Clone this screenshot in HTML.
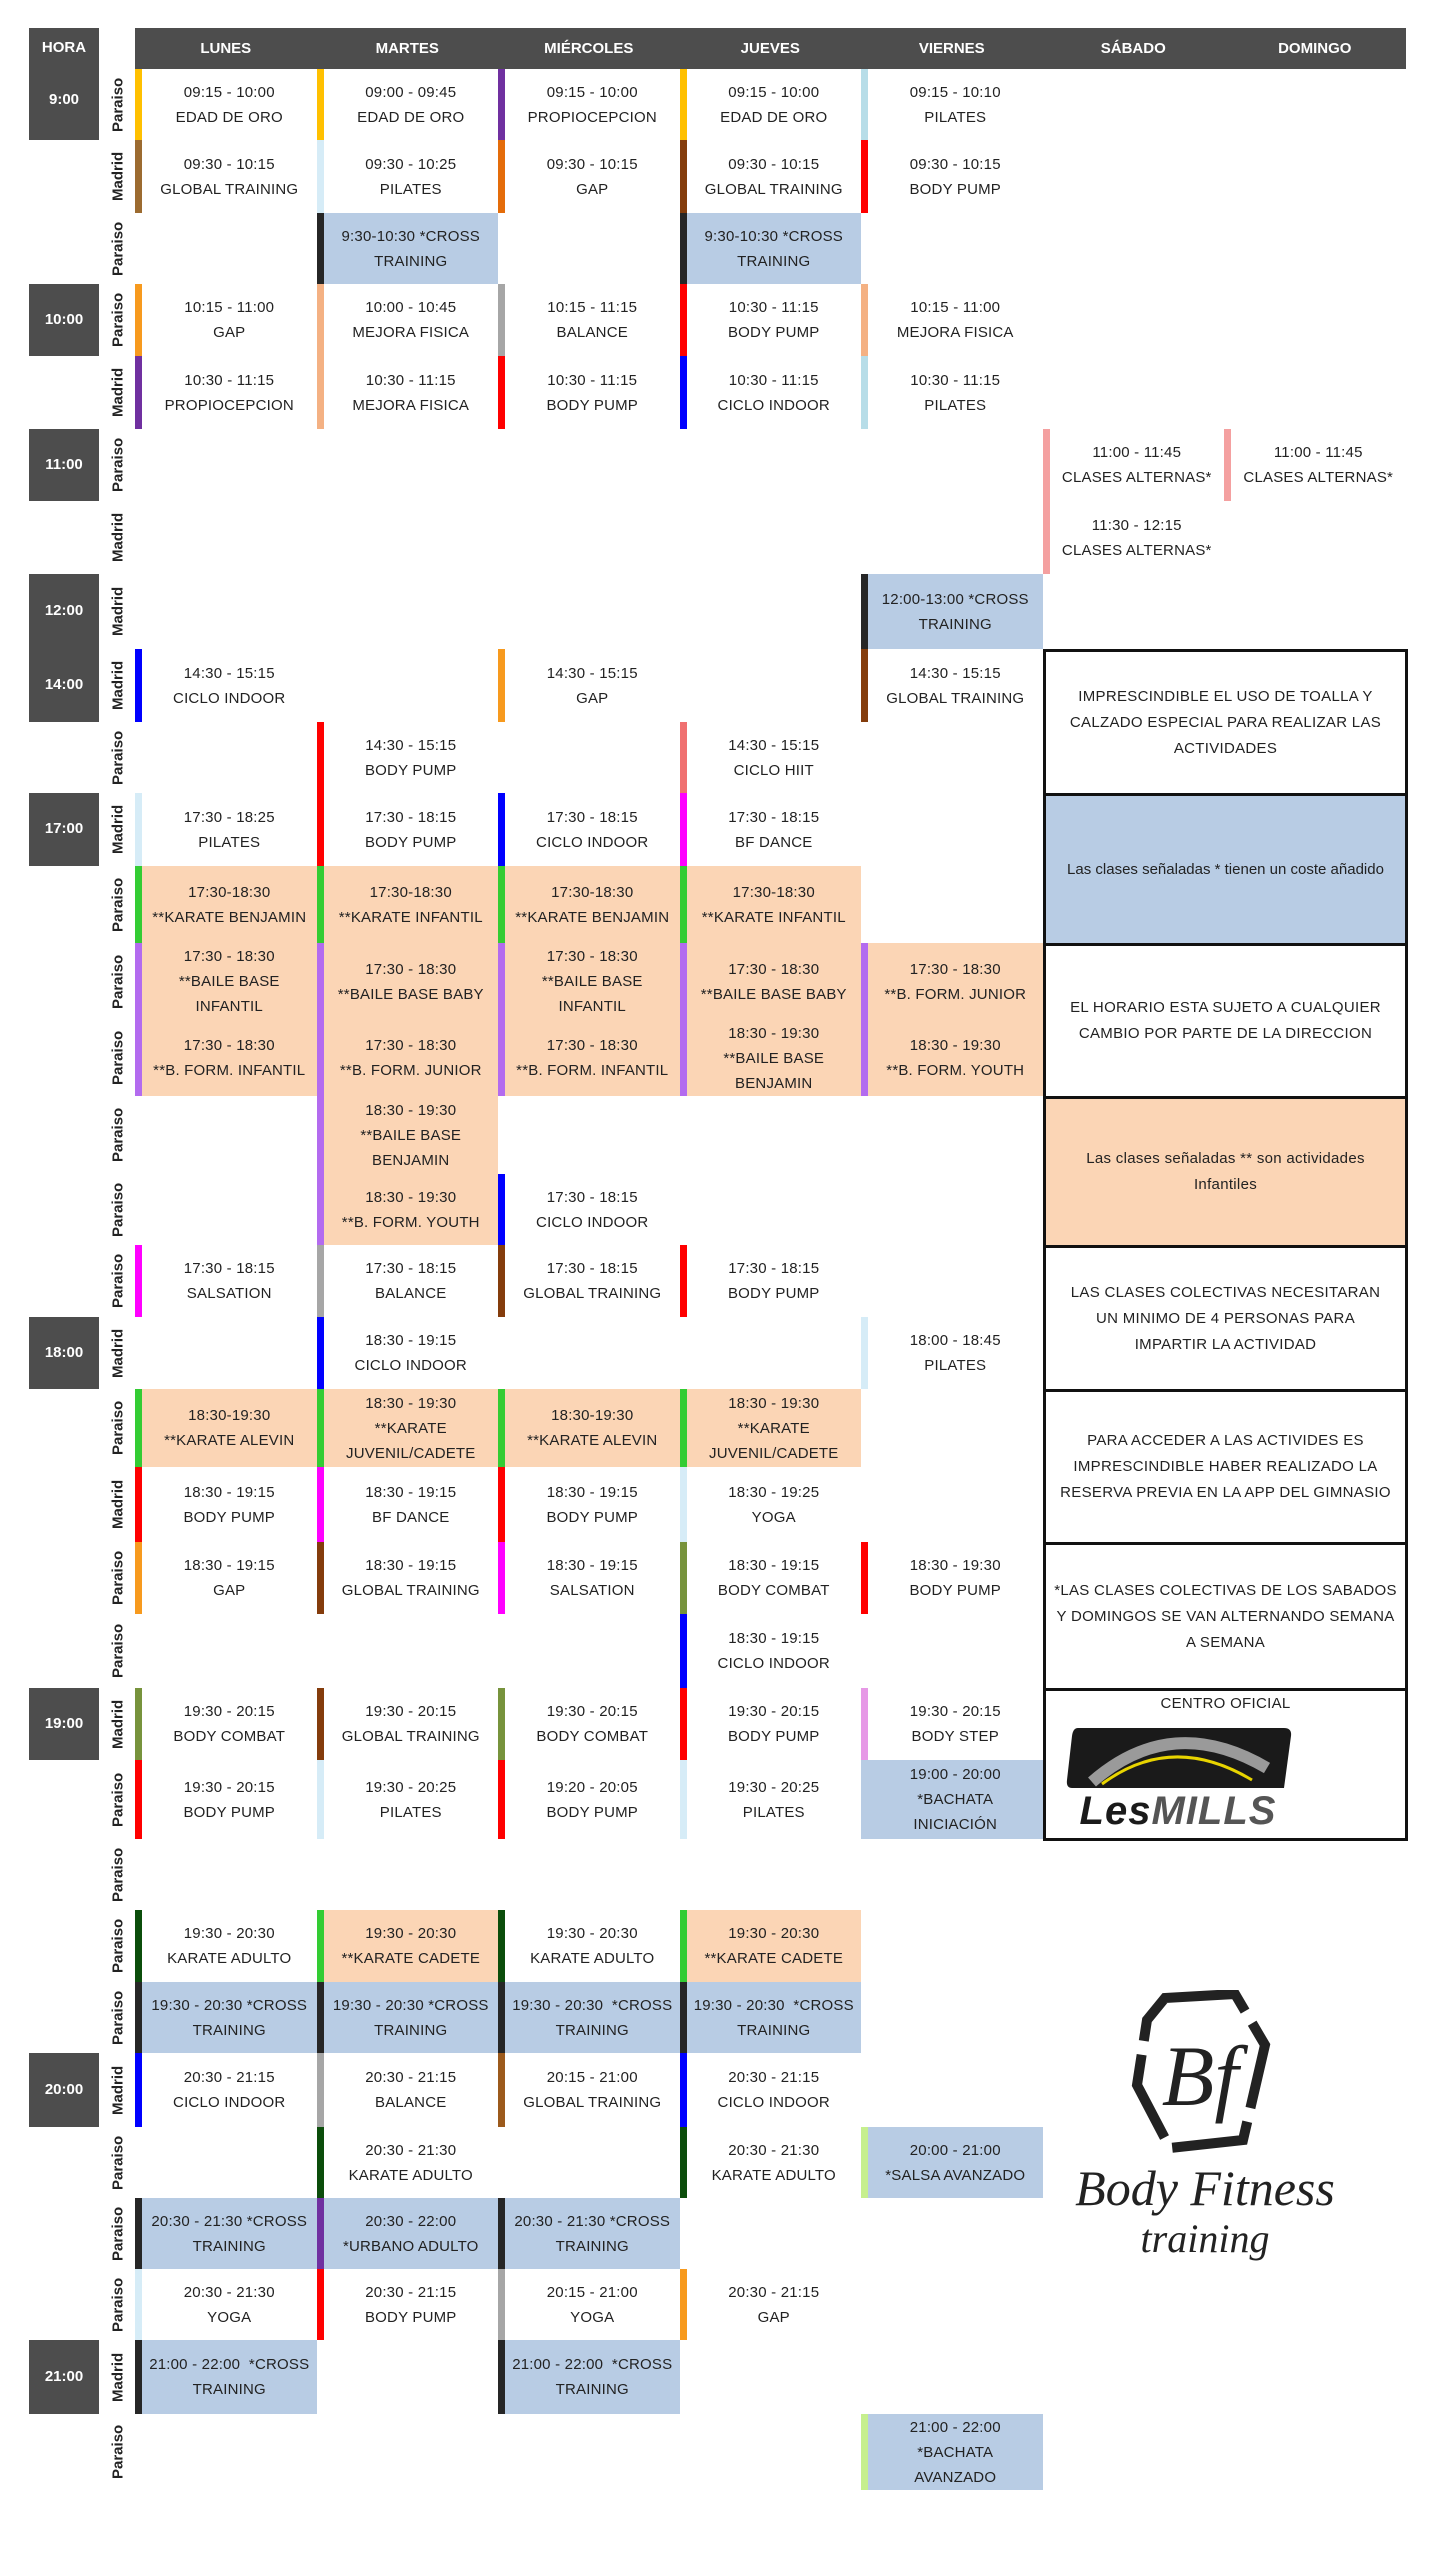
<!DOCTYPE html>
<html><head><meta charset="utf-8"><style>
*{margin:0;padding:0;box-sizing:border-box}
body{width:1441px;height:2560px;background:#fff;position:relative;font-family:"Liberation Sans",sans-serif;color:#222;overflow:hidden}
.hdr{position:absolute;left:135px;top:28px;width:1271px;height:41px;background:#4d4d4d;display:grid;grid-template-columns:repeat(7,181.5px)}
.hdr div{color:#fff;font-weight:bold;font-size:15px;display:flex;align-items:center;justify-content:center}
.hb{position:absolute;left:29px;width:70px;background:#4d4d4d;color:#fff;font-weight:bold;font-size:15px}
.hb span{position:absolute;left:0;right:0;text-align:center}
.rows{grid-template-rows:71px 73px 71px 72px 73px 72px 73px 75px 73px 71px 73px 77px 77px 76px 78px 71px 72px 72px 78px 75px 72px 74px 72px 79px 71px 72px 71px 74px 71px 71px 71px 74px 76px}
.g{position:absolute;left:135px;top:69px;width:1271px;display:grid;grid-template-columns:repeat(7,181.5px)}
.loc{position:absolute;left:104px;top:69px;width:28px;display:grid}
.loc div{writing-mode:vertical-rl;transform:rotate(180deg);font-weight:bold;font-size:15px;text-align:center;display:flex;align-items:center;justify-content:center}
.c{display:flex;align-items:center;justify-content:center;text-align:center;border-left:7px solid #fff;font-size:15px;line-height:25px;letter-spacing:0.2px;padding:0 1px;white-space:nowrap}
.b{background:#b8cce4}.p{background:#fbd5b5}
.Y{border-color:#ffc000}.BR{border-color:#9c6b30}.LB{border-color:#d6ecf7}.PU{border-color:#7030a0}.OR{border-color:#e46c0a}.DB{border-color:#843c0c}.R{border-color:#ff0000}.K{border-color:#262626}.PE{border-color:#f4b183}.GR{border-color:#a6a6a6}.BL{border-color:#0000ff}.TE{border-color:#b7dde8}.O2{border-color:#f79a1e}.SA{border-color:#f07070}.MG{border-color:#ff00ff}.GN{border-color:#33cc33}.LV{border-color:#b36bef}.OL{border-color:#77933c}.DG{border-color:#0b4d0b}.PK{border-color:#f4a0a0}.LG{border-color:#c6ef8e}.VI{border-color:#e699e6}
.notes{position:absolute;left:1043px;top:649px;width:365px;height:1192px;border:3px solid #111}
.n{position:absolute;left:0;right:0;border-bottom:3px solid #111;display:flex;align-items:center;justify-content:center;text-align:center;font-size:15px;line-height:26px;letter-spacing:0.3px;padding:0 14px}
</style></head><body>
<div class="hdr"><div>LUNES</div><div>MARTES</div><div>MIÉRCOLES</div><div>JUEVES</div><div>VIERNES</div><div>SÁBADO</div><div>DOMINGO</div></div>

<div class="hb" style="top:28px;height:112px"><span style="top:11px">HORA</span><span style="top:63px">9:00</span></div>
<div class="hb" style="top:284px;height:72px"><span style="top:27px">10:00</span></div>
<div class="hb" style="top:429px;height:72px"><span style="top:27px">11:00</span></div>
<div class="hb" style="top:574px;height:148px"><span style="top:28px">12:00</span><span style="top:102px">14:00</span></div>
<div class="hb" style="top:793px;height:73px"><span style="top:27px">17:00</span></div>
<div class="hb" style="top:1317px;height:72px"><span style="top:27px">18:00</span></div>
<div class="hb" style="top:1688px;height:72px"><span style="top:27px">19:00</span></div>
<div class="hb" style="top:2053px;height:74px"><span style="top:28px">20:00</span></div>
<div class="hb" style="top:2340px;height:74px"><span style="top:28px">21:00</span></div>

<div class="loc rows">
<div>Paraiso</div><div>Madrid</div><div>Paraiso</div><div>Paraiso</div><div>Madrid</div><div>Paraiso</div><div>Madrid</div><div>Madrid</div><div>Madrid</div><div>Paraiso</div><div>Madrid</div><div>Paraiso</div><div>Paraiso</div><div>Paraiso</div><div>Paraiso</div><div>Paraiso</div><div>Paraiso</div><div>Madrid</div><div>Paraiso</div><div>Madrid</div><div>Paraiso</div><div>Paraiso</div><div>Madrid</div><div>Paraiso</div><div>Paraiso</div><div>Paraiso</div><div>Paraiso</div><div>Madrid</div><div>Paraiso</div><div>Paraiso</div><div>Paraiso</div><div>Madrid</div><div>Paraiso</div>
</div>

<div class="g rows">
<div class="c Y" style="grid-area:1/1">09:15 - 10:00<br>EDAD DE ORO</div>
<div class="c Y" style="grid-area:1/2">09:00 - 09:45<br>EDAD DE ORO</div>
<div class="c PU" style="grid-area:1/3">09:15 - 10:00<br>PROPIOCEPCION</div>
<div class="c Y" style="grid-area:1/4">09:15 - 10:00<br>EDAD DE ORO</div>
<div class="c TE" style="grid-area:1/5">09:15 - 10:10<br>PILATES</div>

<div class="c BR" style="grid-area:2/1">09:30 - 10:15<br>GLOBAL TRAINING</div>
<div class="c LB" style="grid-area:2/2">09:30 - 10:25<br>PILATES</div>
<div class="c OR" style="grid-area:2/3">09:30 - 10:15<br>GAP</div>
<div class="c DB" style="grid-area:2/4">09:30 - 10:15<br>GLOBAL TRAINING</div>
<div class="c R" style="grid-area:2/5">09:30 - 10:15<br>BODY PUMP</div>

<div class="c K b" style="grid-area:3/2">9:30-10:30 *CROSS<br>TRAINING</div>
<div class="c K b" style="grid-area:3/4">9:30-10:30 *CROSS<br>TRAINING</div>

<div class="c O2" style="grid-area:4/1">10:15 - 11:00<br>GAP</div>
<div class="c PE" style="grid-area:4/2">10:00 - 10:45<br>MEJORA FISICA</div>
<div class="c GR" style="grid-area:4/3">10:15 - 11:15<br>BALANCE</div>
<div class="c R" style="grid-area:4/4">10:30 - 11:15<br>BODY PUMP</div>
<div class="c PE" style="grid-area:4/5">10:15 - 11:00<br>MEJORA FISICA</div>

<div class="c PU" style="grid-area:5/1">10:30 - 11:15<br>PROPIOCEPCION</div>
<div class="c PE" style="grid-area:5/2">10:30 - 11:15<br>MEJORA FISICA</div>
<div class="c R" style="grid-area:5/3">10:30 - 11:15<br>BODY PUMP</div>
<div class="c BL" style="grid-area:5/4">10:30 - 11:15<br>CICLO INDOOR</div>
<div class="c TE" style="grid-area:5/5">10:30 - 11:15<br>PILATES</div>

<div class="c PK" style="grid-area:6/6">11:00 - 11:45<br>CLASES ALTERNAS*</div>
<div class="c PK" style="grid-area:6/7">11:00 - 11:45<br>CLASES ALTERNAS*</div>
<div class="c PK" style="grid-area:7/6">11:30 - 12:15<br>CLASES ALTERNAS*</div>

<div class="c K b" style="grid-area:8/5">12:00-13:00 *CROSS<br>TRAINING</div>

<div class="c BL" style="grid-area:9/1">14:30 - 15:15<br>CICLO INDOOR</div>
<div class="c O2" style="grid-area:9/3">14:30 - 15:15<br>GAP</div>
<div class="c DB" style="grid-area:9/5">14:30 - 15:15<br>GLOBAL TRAINING</div>

<div class="c R" style="grid-area:10/2">14:30 - 15:15<br>BODY PUMP</div>
<div class="c SA" style="grid-area:10/4">14:30 - 15:15<br>CICLO HIIT</div>

<div class="c LB" style="grid-area:11/1">17:30 - 18:25<br>PILATES</div>
<div class="c R" style="grid-area:11/2">17:30 - 18:15<br>BODY PUMP</div>
<div class="c BL" style="grid-area:11/3">17:30 - 18:15<br>CICLO INDOOR</div>
<div class="c MG" style="grid-area:11/4">17:30 - 18:15<br>BF DANCE</div>

<div class="c GN p" style="grid-area:12/1">17:30-18:30<br>**KARATE BENJAMIN</div>
<div class="c GN p" style="grid-area:12/2">17:30-18:30<br>**KARATE INFANTIL</div>
<div class="c GN p" style="grid-area:12/3">17:30-18:30<br>**KARATE BENJAMIN</div>
<div class="c GN p" style="grid-area:12/4">17:30-18:30<br>**KARATE INFANTIL</div>

<div class="c LV p" style="grid-area:13/1">17:30 - 18:30<br>**BAILE BASE<br>INFANTIL</div>
<div class="c LV p" style="grid-area:13/2">17:30 - 18:30<br>**BAILE BASE BABY</div>
<div class="c LV p" style="grid-area:13/3">17:30 - 18:30<br>**BAILE BASE<br>INFANTIL</div>
<div class="c LV p" style="grid-area:13/4">17:30 - 18:30<br>**BAILE BASE BABY</div>
<div class="c LV p" style="grid-area:13/5">17:30 - 18:30<br>**B. FORM. JUNIOR</div>

<div class="c LV p" style="grid-area:14/1">17:30 - 18:30<br>**B. FORM. INFANTIL</div>
<div class="c LV p" style="grid-area:14/2">17:30 - 18:30<br>**B. FORM. JUNIOR</div>
<div class="c LV p" style="grid-area:14/3">17:30 - 18:30<br>**B. FORM. INFANTIL</div>
<div class="c LV p" style="grid-area:14/4">18:30 - 19:30<br>**BAILE BASE<br>BENJAMIN</div>
<div class="c LV p" style="grid-area:14/5">18:30 - 19:30<br>**B. FORM. YOUTH</div>

<div class="c LV p" style="grid-area:15/2">18:30 - 19:30<br>**BAILE BASE<br>BENJAMIN</div>
<div class="c LV p" style="grid-area:16/2">18:30 - 19:30<br>**B. FORM. YOUTH</div>
<div class="c BL" style="grid-area:16/3">17:30 - 18:15<br>CICLO INDOOR</div>

<div class="c MG" style="grid-area:17/1">17:30 - 18:15<br>SALSATION</div>
<div class="c GR" style="grid-area:17/2">17:30 - 18:15<br>BALANCE</div>
<div class="c DB" style="grid-area:17/3">17:30 - 18:15<br>GLOBAL TRAINING</div>
<div class="c R" style="grid-area:17/4">17:30 - 18:15<br>BODY PUMP</div>

<div class="c BL" style="grid-area:18/2">18:30 - 19:15<br>CICLO INDOOR</div>
<div class="c LB" style="grid-area:18/5">18:00 - 18:45<br>PILATES</div>

<div class="c GN p" style="grid-area:19/1">18:30-19:30<br>**KARATE ALEVIN</div>
<div class="c GN p" style="grid-area:19/2">18:30 - 19:30<br>**KARATE<br>JUVENIL/CADETE</div>
<div class="c GN p" style="grid-area:19/3">18:30-19:30<br>**KARATE ALEVIN</div>
<div class="c GN p" style="grid-area:19/4">18:30 - 19:30<br>**KARATE<br>JUVENIL/CADETE</div>

<div class="c R" style="grid-area:20/1">18:30 - 19:15<br>BODY PUMP</div>
<div class="c MG" style="grid-area:20/2">18:30 - 19:15<br>BF DANCE</div>
<div class="c R" style="grid-area:20/3">18:30 - 19:15<br>BODY PUMP</div>
<div class="c LB" style="grid-area:20/4">18:30 - 19:25<br>YOGA</div>

<div class="c O2" style="grid-area:21/1">18:30 - 19:15<br>GAP</div>
<div class="c DB" style="grid-area:21/2">18:30 - 19:15<br>GLOBAL TRAINING</div>
<div class="c MG" style="grid-area:21/3">18:30 - 19:15<br>SALSATION</div>
<div class="c OL" style="grid-area:21/4">18:30 - 19:15<br>BODY COMBAT</div>
<div class="c R" style="grid-area:21/5">18:30 - 19:30<br>BODY PUMP</div>

<div class="c BL" style="grid-area:22/4">18:30 - 19:15<br>CICLO INDOOR</div>

<div class="c OL" style="grid-area:23/1">19:30 - 20:15<br>BODY COMBAT</div>
<div class="c DB" style="grid-area:23/2">19:30 - 20:15<br>GLOBAL TRAINING</div>
<div class="c OL" style="grid-area:23/3">19:30 - 20:15<br>BODY COMBAT</div>
<div class="c R" style="grid-area:23/4">19:30 - 20:15<br>BODY PUMP</div>
<div class="c VI" style="grid-area:23/5">19:30 - 20:15<br>BODY STEP</div>

<div class="c R" style="grid-area:24/1">19:30 - 20:15<br>BODY PUMP</div>
<div class="c LB" style="grid-area:24/2">19:30 - 20:25<br>PILATES</div>
<div class="c R" style="grid-area:24/3">19:20 - 20:05<br>BODY PUMP</div>
<div class="c LB" style="grid-area:24/4">19:30 - 20:25<br>PILATES</div>
<div class="c b" style="grid-area:24/5;border-color:#b8cce4">19:00 - 20:00<br>*BACHATA<br>INICIACIÓN</div>

<div class="c DG" style="grid-area:26/1">19:30 - 20:30<br>KARATE ADULTO</div>
<div class="c GN p" style="grid-area:26/2">19:30 - 20:30<br>**KARATE CADETE</div>
<div class="c DG" style="grid-area:26/3">19:30 - 20:30<br>KARATE ADULTO</div>
<div class="c GN p" style="grid-area:26/4">19:30 - 20:30<br>**KARATE CADETE</div>

<div class="c K b" style="grid-area:27/1">19:30 - 20:30 *CROSS<br>TRAINING</div>
<div class="c K b" style="grid-area:27/2">19:30 - 20:30 *CROSS<br>TRAINING</div>
<div class="c K b" style="grid-area:27/3">19:30 - 20:30 &nbsp;*CROSS<br>TRAINING</div>
<div class="c K b" style="grid-area:27/4">19:30 - 20:30 &nbsp;*CROSS<br>TRAINING</div>

<div class="c BL" style="grid-area:28/1">20:30 - 21:15<br>CICLO INDOOR</div>
<div class="c GR" style="grid-area:28/2">20:30 - 21:15<br>BALANCE</div>
<div class="c DB" style="grid-area:28/3;border-color:#9c5a1c">20:15 - 21:00<br>GLOBAL TRAINING</div>
<div class="c BL" style="grid-area:28/4">20:30 - 21:15<br>CICLO INDOOR</div>

<div class="c DG" style="grid-area:29/2">20:30 - 21:30<br>KARATE ADULTO</div>
<div class="c DG" style="grid-area:29/4">20:30 - 21:30<br>KARATE ADULTO</div>
<div class="c LG b" style="grid-area:29/5">20:00 - 21:00<br>*SALSA AVANZADO</div>

<div class="c K b" style="grid-area:30/1">20:30 - 21:30 *CROSS<br>TRAINING</div>
<div class="c PU b" style="grid-area:30/2">20:30 - 22:00<br>*URBANO ADULTO</div>
<div class="c K b" style="grid-area:30/3">20:30 - 21:30 *CROSS<br>TRAINING</div>

<div class="c LB" style="grid-area:31/1">20:30 - 21:30<br>YOGA</div>
<div class="c R" style="grid-area:31/2">20:30 - 21:15<br>BODY PUMP</div>
<div class="c GR" style="grid-area:31/3">20:15 - 21:00<br>YOGA</div>
<div class="c O2" style="grid-area:31/4">20:30 - 21:15<br>GAP</div>

<div class="c K b" style="grid-area:32/1">21:00 - 22:00 &nbsp;*CROSS<br>TRAINING</div>
<div class="c K b" style="grid-area:32/3">21:00 - 22:00 &nbsp;*CROSS<br>TRAINING</div>

<div class="c LG b" style="grid-area:33/5">21:00 - 22:00<br>*BACHATA<br>AVANZADO</div>
</div>

<div class="notes">
<div class="n" style="top:0;height:144px">IMPRESCINDIBLE EL USO DE TOALLA Y CALZADO ESPECIAL PARA REALIZAR LAS ACTIVIDADES</div>
<div class="n" style="top:144px;height:150px;background:#b8cce4;letter-spacing:0;padding:0 3px">Las clases señaladas * tienen un coste añadido</div>
<div class="n" style="top:294px;height:153px">EL HORARIO ESTA SUJETO A CUALQUIER CAMBIO POR PARTE DE LA DIRECCION</div>
<div class="n" style="top:447px;height:149px;background:#fbd5b5;padding:0 40px">Las clases señaladas ** son actividades Infantiles</div>
<div class="n" style="top:596px;height:144px">LAS CLASES COLECTIVAS NECESITARAN UN MINIMO DE 4 PERSONAS PARA IMPARTIR LA ACTIVIDAD</div>
<div class="n" style="top:740px;height:153px">PARA ACCEDER A LAS ACTIVIDES ES IMPRESCINDIBLE HABER REALIZADO LA RESERVA PREVIA EN LA APP DEL GIMNASIO</div>
<div class="n" style="top:893px;height:146px;padding:0 6px">*LAS CLASES COLECTIVAS DE LOS SABADOS Y DOMINGOS SE VAN ALTERNANDO SEMANA A SEMANA</div>
<div class="n" style="top:1039px;height:147px;border-bottom:none;align-items:flex-start;padding-top:0">CENTRO OFICIAL</div>
</div>

<svg style="position:absolute;left:1062px;top:1722px" width="232" height="108" viewBox="0 0 232 108">
<path d="M16 6 L222 6 Q230 6 229 14 L222 66 L10 66 Q4 66 5 58 L10 14 Q11 6 16 6Z" fill="#1a1a1a"/>
<path d="M30 60 Q110 -10 205 46" stroke="#9a9a9a" stroke-width="12" fill="none"/>
<path d="M40 62 Q110 10 190 58" stroke="#e8d400" stroke-width="3" fill="none"/>
<text x="116" y="102" text-anchor="middle" font-family="Liberation Sans" font-weight="bold" font-style="italic" font-size="40" fill="#1a1a1a" letter-spacing="1">Les<tspan fill="#555">MILLS</tspan></text>
</svg>

<svg style="position:absolute;left:1075px;top:1990px" width="260" height="280" viewBox="0 0 260 280">
<path d="M90 8 L160 4 L190 55 L168 150 L95 158 L62 95 L72 30Z" fill="none" stroke="#222" stroke-width="10" stroke-dasharray="90 14"/>
<text x="125" y="115" text-anchor="middle" font-family="Liberation Serif" font-style="italic" font-size="86" fill="#222">Bf</text>
<text x="130" y="215" text-anchor="middle" font-family="Liberation Serif" font-style="italic" font-size="50" fill="#222">Body Fitness</text>
<text x="130" y="262" text-anchor="middle" font-family="Liberation Serif" font-style="italic" font-size="40" fill="#222">training</text>
</svg>
</body></html>
